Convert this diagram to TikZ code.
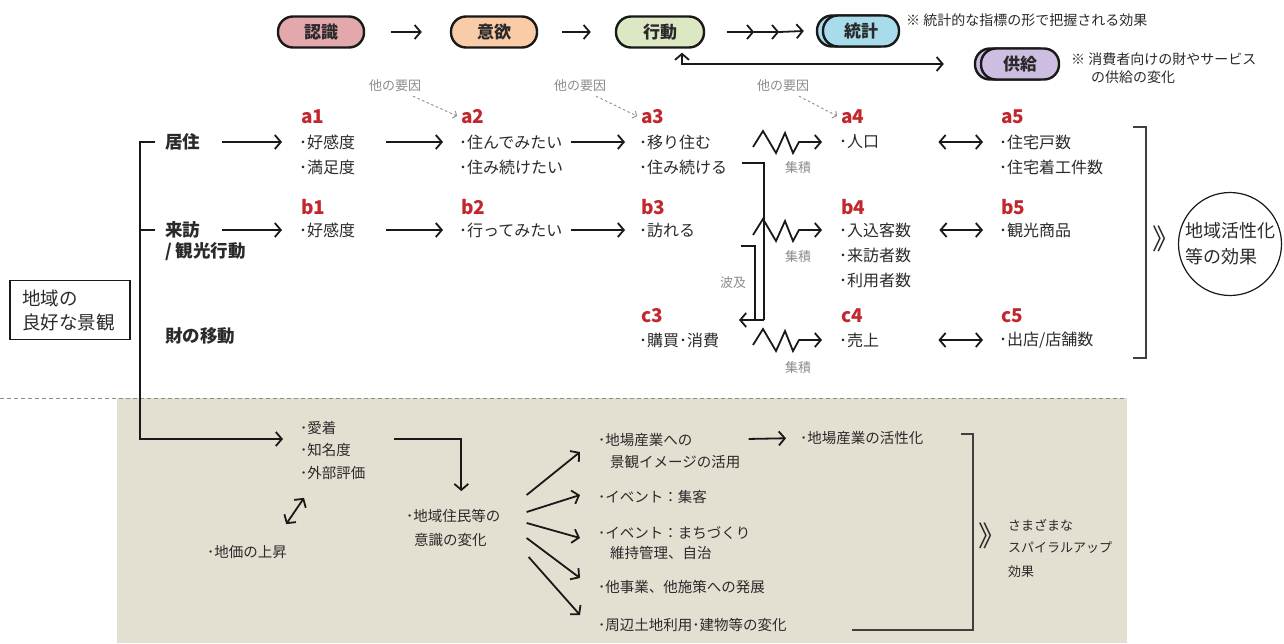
\documentclass[tikz,border=0pt]{standalone}
\usepackage{fontspec}
\setmainfont{Noto Sans CJK JP}
\usetikzlibrary{arrows.meta,shapes.geometric}
\definecolor{beige}{HTML}{E4E0D1}
\definecolor{cpink}{HTML}{E2A8AC}
\definecolor{cpeach}{HTML}{F9CBA7}
\definecolor{cgreen}{HTML}{DCE8C3}
\definecolor{cblue}{HTML}{A9DCEB}
\definecolor{clav}{HTML}{CDBDE0}
\definecolor{cred}{HTML}{C1272D}
\definecolor{ctext}{HTML}{2A2A2A}
\definecolor{cgray}{HTML}{8C8C8C}
\tikzset{
  pill/.style={draw=black!90, line width=2.4pt, rounded corners=15pt, minimum height=31pt, minimum width=86pt, inner sep=0pt, font=\bfseries\fontsize{17}{17}\selectfont, text=ctext},
  line/.style={line width=1.8pt, draw=black!90},
  arr/.style={line width=1.8pt, draw=black!90, -{Straight Barb[length=6pt,width=14pt]}},
  darr/.style={line width=1.8pt, draw=black!90, {Straight Barb[length=6pt,width=14pt]}-{Straight Barb[length=6pt,width=14pt]}},
  dasharr/.style={draw=cgray, line width=0.9pt, dash pattern=on 2.5pt off 2.5pt, -{Straight Barb[length=3pt,width=8pt]}},
  note/.style={anchor=west, inner sep=0pt, text=ctext, font=\fontsize{14}{16}\selectfont},
  glab/.style={inner sep=0pt, text=cgray, font=\fontsize{13}{15}\selectfont},
  code/.style={anchor=west, inner sep=0pt, text=cred, font=\bfseries\fontsize{19}{20}\selectfont},
  item/.style={anchor=west, inner sep=0pt, text=ctext, font=\fontsize{16}{18}\selectfont},
  cat/.style={anchor=west, inner sep=0pt, text=ctext, font=\bfseries\fontsize{17.5}{20}\selectfont},
  bitem/.style={anchor=west, inner sep=0pt, text=ctext, font=\fontsize{14.5}{17}\selectfont},
  small/.style={anchor=west, inner sep=0pt, text=ctext, font=\fontsize{13}{15}\selectfont},
  chev/.style={inner sep=0pt, text=ctext, font=\fontsize{28}{28}\selectfont},
  brk/.style={line width=1.3pt, draw=black!75}
}
\begin{document}
\begin{tikzpicture}[x=1pt,y=-1pt]
\useasboundingbox (0,0) rectangle (1284,643);
\fill[beige] (117,398) rectangle (1127,643);
\draw[cgray, line width=0.9pt, dash pattern=on 4pt off 3pt] (0,398) -- (1127,398);

% ---- top row
\node[pill, fill=cpink] (p1) at (321,32) {認識};
\node[pill, fill=cpeach] (p2) at (494,32) {意欲};
\node[pill, fill=cgreen, minimum width=88pt] (p3) at (660,32) {行動};
\node[pill, fill=cblue, minimum width=76pt] (p4b) at (855,31) {};
\node[pill, fill=cblue, minimum width=76pt] (p4) at (861,31) {統計};
\node[pill, fill=clav, minimum width=78pt] (p5b) at (1014,64) {};
\node[pill, fill=clav, minimum width=78pt] (p5) at (1020,64) {供給};
\draw[arr] ([xshift=26pt]p1.east) -- ([xshift=-28pt]p2.west);
\draw[arr] ([xshift=24pt]p2.east) -- ([xshift=-24pt]p3.west);
\draw[arr] ([xshift=22pt]p3.east) -- ([xshift=49pt]p3.east);
\draw[arr] ([xshift=49pt]p3.east) -- ([xshift=74pt]p3.east);
\draw[arr] ([xshift=74pt]p3.east) -- ([xshift=-12pt]p4b.west);
\draw[darr] ([xshift=22pt,yshift=-4pt]p3.south) |- ([xshift=-30pt]p5b.west);
\node[note] (n1) at (906,20) {※ 統計的な指標の形で把握される効果};
\node[note] (n2) at (1071,59) {※ 消費者向けの財やサービス};
\node[note] (n3) at (1091,77) {の供給の変化};

% ---- other factors
\node[glab] (k1) at (395,86) {他の要因};
\node[glab] (k2) at (580,86) {他の要因};
\node[glab] (k3) at (783,86) {他の要因};

% ---- codes
\node[code] (a1) at (301,117) {a1};
\node[code] (a2) at (461,117) {a2};
\node[code] (a3) at (641,117) {a3};
\node[code] (a4) at (841,117) {a4};
\node[code] (a5) at (1001,117) {a5};
\node[code] (b1) at (301,207) {b1};
\node[code] (b2) at (461,207) {b2};
\node[code] (b3) at (641,207) {b3};
\node[code] (b4) at (841,207) {b4};
\node[code] (b5) at (1001,207) {b5};
\node[code] (c3) at (641,316) {c3};
\node[code] (c4) at (841,316) {c4};
\node[code] (c5) at (1001,316) {c5};

\draw[dasharr] ([xshift=18pt,yshift=-4pt]k1.south) -- ([xshift=-4pt,yshift=1pt]a2.west);
\draw[dasharr] ([xshift=16pt,yshift=-4pt]k2.south) -- ([xshift=-4pt,yshift=1pt]a3.west);
\draw[dasharr] ([xshift=16pt,yshift=-4pt]k3.south) -- ([xshift=-4pt,yshift=1pt]a4.west);

% ---- items
\node[item] (a11) at (299,142) {･好感度};
\node[item] (a12) at (299,167) {･満足度};
\node[item] (a21) at (459,142) {･住んでみたい};
\node[item] (a22) at (459,167) {･住み続けたい};
\node[item] (a31) at (639,142) {･移り住む};
\node[item] (a32) at (639,167) {･住み続ける};
\node[item] (a41) at (839,142) {･人口};
\node[item] (a51) at (999,142) {･住宅戸数};
\node[item] (a52) at (999,167) {･住宅着工件数};
\node[item] (b11) at (299,230) {･好感度};
\node[item] (b21) at (459,230) {･行ってみたい};
\node[item] (b31) at (639,230) {･訪れる};
\node[item] (b41) at (839,230) {･入込客数};
\node[item] (b42) at (839,255) {･来訪者数};
\node[item] (b43) at (839,280) {･利用者数};
\node[item] (b51) at (999,230) {･観光商品};
\node[item] (c31) at (639,340) {･購買･消費};
\node[item] (c41) at (839,340) {･売上};
\node[item] (c51) at (999,340) {･出店/店舗数};

% ---- categories
\node[cat] (ca) at (165,142) {居住};
\node[cat] (cb) at (165,230) {来訪};
\node[cat] (cb2) at (165,252) {/ 観光行動};
\node[cat] (cc) at (165,336) {財の移動};

\node[draw=black!90, line width=1.6pt, minimum width=120pt, minimum height=59pt, inner xsep=12pt, text width=96pt, align=left, text=ctext, font=\fontsize{18.5}{24}\selectfont] (land) at (70,310) {地域の\\良好な景観};

% ---- arrows rows
\draw[arr, shorten <=22pt, shorten >=17pt] (ca.east) -- (a11.west);
\draw[arr, shorten <=22pt, shorten >=17pt] (cb.east) -- (b11.west);
\draw[arr, shorten <=31pt, shorten >=16pt] (a11.east) -- (a21.west);
\draw[arr, shorten <=31pt, shorten >=16pt] (b11.east) -- (b21.west);
\draw[arr, shorten <=8pt, shorten >=14pt] (a21.east) -- (a31.west);
\draw[arr, shorten <=8pt, shorten >=14pt] (b21.east) -- (b31.west);

\draw[arr] ([xshift=-86pt,yshift=-5pt]a41.west) -- ++(10,-16) -- ++(13,22) -- ++(9,-20) -- ++(8,20) -- ++(6,-11) -- ([xshift=-17pt]a41.west);
\draw[arr] ([xshift=-86pt,yshift=-5pt]b41.west) -- ++(10,-16) -- ++(13,22) -- ++(9,-20) -- ++(8,20) -- ++(6,-11) -- ([xshift=-17pt]b41.west);
\draw[arr] ([xshift=-86pt,yshift=-5pt]c41.west) -- ++(10,-16) -- ++(13,22) -- ++(9,-20) -- ++(8,20) -- ++(6,-11) -- ([xshift=-17pt]c41.west);
\node[glab] (s1) at (798,168) {集積};
\node[glab] (s2) at (798,257) {集積};
\node[glab] (s3) at (798,368) {集積};

\draw[darr, shorten <=59pt, shorten >=16pt] (a41.east) -- (a51.west);
\draw[darr, shorten <=28pt, shorten >=16pt] (b41.east) -- (b51.west);
\draw[darr, shorten <=59pt, shorten >=16pt] (c41.east) -- (c51.west);

% spill-over
\coordinate (j1) at (764,320);
\coordinate (j2) at (755,320);
\coordinate (sp) at (739,320);
\draw[line] ([xshift=15pt,yshift=4pt]a32.east) -| (j1);
\draw[arr] (j1) -- (sp);
\draw[line] ([xshift=46pt,yshift=-16pt]b31.east) -| (j2);
\node[glab] (hb) at (733,283) {波及};

% right bracket
\draw[brk] (1133,127) -- (1146,127) -- (1146,358) -- (1133,358);
\node[chev] (g1) at (1166,239) {》};
\node[draw=black!90, line width=1.2pt, circle, minimum size=103pt, inner sep=0pt, align=left, text=ctext, font=\fontsize{18}{26}\selectfont] (eff) at (1230,244) {地域活性化\\等の効果};

% ---- bottom part
\node[bitem] (m1) at (300,428) {･愛着};
\node[bitem] (m2) at (300,450) {･知名度};
\node[bitem] (m3) at (300,473) {･外部評価};
\node[bitem] (lp) at (207,552) {･地価の上昇};
\node[bitem] (mid) at (406,516) {･地域住民等の};
\node[bitem] (mid2) at (414,540) {意識の変化};

\draw[arr] ([xshift=-10pt]ca.west) -- ([xshift=-25pt]ca.west) |- ([xshift=-17pt,yshift=-11pt]m1.west);
\draw[line] ([xshift=-10pt]cb.west) -- ([xshift=-25pt]cb.west);
\draw[arr] ([xshift=43pt,yshift=11pt]m2.east) -| ([xshift=8pt,yshift=18pt]mid.north);
\draw[darr] ([xshift=-1pt,yshift=21pt]lp.north east) -- ([xshift=4pt,yshift=-18pt]m3.south west);

\node[bitem] (f1) at (598,440) {･地場産業への};
\node[bitem] (f1b) at (610,462) {景観イメージの活用};
\node[bitem] (f2) at (598,497) {･イベント：集客};
\node[bitem] (f3) at (598,533) {･イベント：まちづくり};
\node[bitem] (f3b) at (610,553) {維持管理、自治};
\node[bitem] (f4) at (598,587) {･他事業、他施策への発展};
\node[bitem] (f5) at (598,625) {･周辺土地利用･建物等の変化};
\node[bitem] (m5) at (800,438) {･地場産業の活性化};

\draw[arr] ([xshift=26pt,yshift=21pt]mid.east) -- ([xshift=-18pt,yshift=-12pt]f1.west);
\draw[arr] ([xshift=26pt,yshift=4pt]mid.east) -- ([xshift=-18pt,yshift=2pt]f2.west);
\draw[arr] ([xshift=26pt,yshift=-7pt]mid.east) -- ([xshift=-18pt,yshift=-5pt]f3.west);
\draw[arr] ([xshift=26pt,yshift=-22pt]mid.east) -- ([xshift=-18pt,yshift=9pt]f4.west);
\draw[arr] ([xshift=28pt,yshift=-41pt]mid.east) -- ([xshift=-18pt,yshift=10pt]f5.west);
\draw[arr, shorten <=56pt, shorten >=14pt] (f1.east) -- (m5.west);

\draw[brk] (961,434) -- (973,434) -- (973,630) -- (852,630);
\node[chev] (g2) at (992,536) {》};
\node[small] (t1) at (1008,525) {さまざまな};
\node[small] (t2) at (1008,548) {スパイラルアップ};
\node[small] (t3) at (1008,572) {効果};
\end{tikzpicture}
\end{document}
